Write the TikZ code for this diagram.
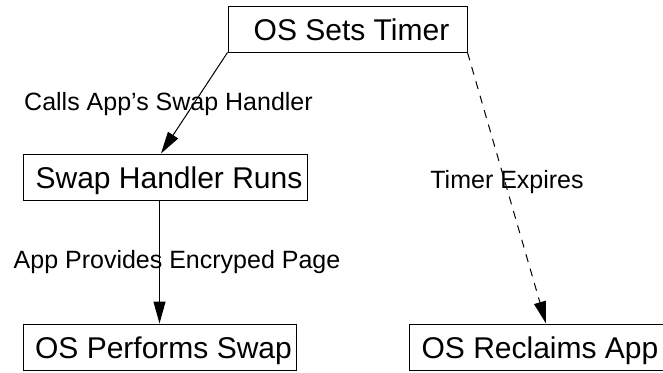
\documentclass[tikz,border=0pt]{standalone}
\usepackage{fontspec}
\setmainfont{Liberation Sans}
\usetikzlibrary{arrows.meta}
\begin{document}
\begin{tikzpicture}[x=1pt,y=-1pt,
  box/.style={draw, line width=1pt, minimum height=46pt, text height=23pt,
    text depth=0pt, inner sep=0pt, font=\fontsize{30}{36}\selectfont},
  lbl/.style={inner sep=0pt, anchor=base, font=\fontsize{25}{30}\selectfont},
  flow/.style={line width=1pt, -{Triangle[length=22pt,width=12pt]}},
  timeout/.style={flow, dash pattern=on 8pt off 7pt}]
\useasboundingbox (0,0) rectangle (663,372);
\clip (0,0) rectangle (663,372);

% boxes
\node[box, minimum width=239pt] (timer)   at (347.5,29) {\hspace*{8pt}OS Sets Timer};
\node[box, minimum width=284pt] (swap)    at (165,177)  {\hspace*{8pt}Swap Handler Runs};
\node[box, minimum width=273pt] (perform) at (159.5,347) {\hspace*{8pt}OS Performs Swap};
\node[box, minimum width=254pt] (reclaim) at (536,347)  {\hspace*{8pt}OS Reclaims App};

% connectors
\draw[flow] (timer.south west) -- ([xshift=-4pt]swap.north);
\draw[flow] (swap.south -| perform.north) -- (perform.north);
\draw[timeout] (timer.south east) -- ([xshift=10pt]reclaim.north);

% connector labels
\node[lbl] (lcall)   at (168.5,110) {Calls App's Swap Handler};
\node[lbl] (lpage)   at (177,268)   {App Provides Encryped Page};
\node[lbl] (lexpire) at (507,188)   {Timer Expires};
\end{tikzpicture}
\end{document}
